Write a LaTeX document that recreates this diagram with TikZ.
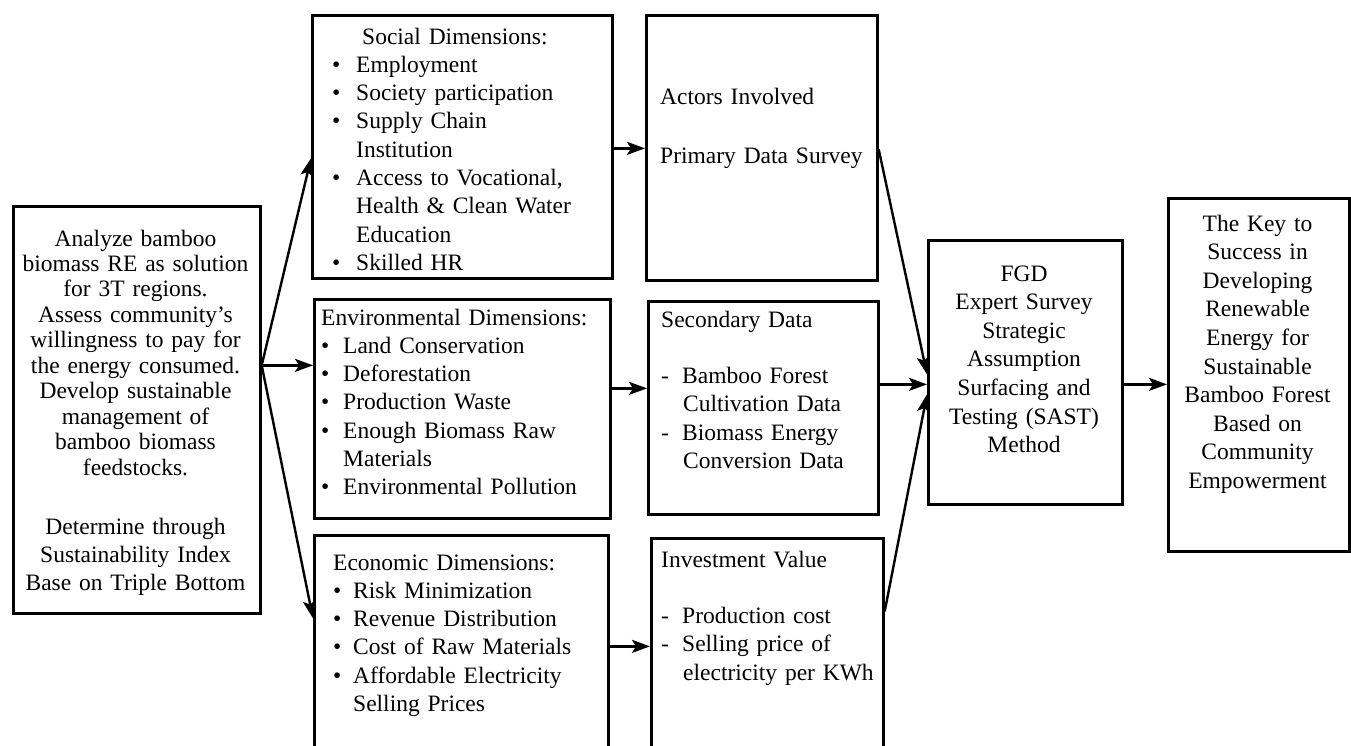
\documentclass[tikz,border=0pt]{standalone}
\usepackage{fontspec}
\setmainfont{Liberation Serif}
\usetikzlibrary{arrows.meta}
\newcommand{\bulx}[1]{\makebox[#1][l]{\textbullet}}
\newcommand{\dashx}{\makebox[21pt][l]{-}}
\begin{document}
\begin{tikzpicture}[x=1pt,y=-1pt,
  boxnode/.style={draw, line width=2.7pt, anchor=north west, inner sep=0pt},
  txt/.style={inner sep=0pt, anchor=base west, text width=290pt, align=left,
    font=\fontsize{23.5}{28.3}\selectfont},
  ctxt/.style={inner sep=0pt, anchor=base, text width=245pt, align=center,
    font=\fontsize{23.5}{28.6}\selectfont},
  arr/.style={line width=2.4pt, -{Stealth[length=18pt,width=13pt,inset=4pt]}}]
\useasboundingbox (0,0) rectangle (1351,745);
\clip (0,0) rectangle (1351,745);

% boxes
\node[boxnode, minimum width=247pt, minimum height=407pt] (left) at (12,205) {};
\node[boxnode, minimum width=300pt, minimum height=263pt] (social) at (311,14) {};
\node[boxnode, minimum width=296pt, minimum height=219pt] (env) at (313,298) {};
\node[boxnode, minimum width=294pt, minimum height=246pt] (econ) at (313,534) {};
\node[boxnode, minimum width=231pt, minimum height=265pt] (actors) at (645,14) {};
\node[boxnode, minimum width=230pt, minimum height=213pt] (second) at (647,300) {};
\node[boxnode, minimum width=232pt, minimum height=243pt] (invest) at (650,537) {};
\node[boxnode, minimum width=194pt, minimum height=264pt] (fgd) at (927,239) {};
\node[boxnode, minimum width=181pt, minimum height=353pt] (key) at (1167,197) {};

% texts
\node[ctxt, font=\fontsize{23.5}{25.45}\selectfont] (lefttxta) at (135.5,246)
  {Analyze bamboo\\biomass RE as solution\\for 3T regions.\\Assess community’s\\willingness to pay for\\the energy consumed.\\Develop sustainable\\management of\\bamboo biomass\\feedstocks.};
\node[ctxt, font=\fontsize{23.5}{28}\selectfont] (lefttxtb) at (135.5,534)
  {Determine through\\Sustainability Index\\Base on Triple Bottom};

\node[txt] (socialtxt) at (332,44)
  {\hspace*{30pt}Social Dimensions:\\
   \bulx{24pt}Employment\\
   \bulx{24pt}Society participation\\
   \bulx{24pt}Supply Chain\\
   \hspace*{24pt}Institution\\
   \bulx{24pt}Access to Vocational,\\
   \hspace*{24pt}Health \& Clean Water\\
   \hspace*{24pt}Education\\
   \bulx{24pt}Skilled HR};

\node[txt] (envtxt) at (321,325)
  {Environmental Dimensions:\\
   \bulx{22pt}Land Conservation\\
   \bulx{22pt}Deforestation\\
   \bulx{22pt}Production Waste\\
   \bulx{22pt}Enough Biomass Raw\\
   \hspace*{22pt}Materials\\
   \bulx{22pt}Environmental Pollution};

\node[txt] (econtxt) at (333,570)
  {Economic Dimensions:\\
   \bulx{20pt}Risk Minimization\\
   \bulx{20pt}Revenue Distribution\\
   \bulx{20pt}Cost of Raw Materials\\
   \bulx{20pt}Affordable Electricity\\
   \hspace*{20pt}Selling Prices};

\node[txt] (actorstxt) at (660,104)
  {Actors Involved\\[30.7pt]Primary Data Survey};

\node[txt] (secondtxt) at (661,327)
  {Secondary Data\\[28.3pt]
   \dashx Bamboo Forest\\
   \hspace*{22pt}Cultivation Data\\
   \dashx Biomass Energy\\
   \hspace*{22pt}Conversion Data};

\node[txt] (investtxt) at (661,567)
  {Investment Value\\[28.3pt]
   \dashx Production cost\\
   \dashx Selling price of\\
   \hspace*{22pt}electricity per KWh};

\node[ctxt] (fgdtxt) at (1024,281)
  {FGD\\Expert Survey\\Strategic\\Assumption\\Surfacing and\\Testing (SAST)\\Method};

\node[ctxt] (keytxt) at (1257.5,231)
  {The Key to\\Success in\\Developing\\Renewable\\Energy for\\Sustainable\\Bamboo Forest\\Based on\\Community\\Empowerment};

% connectors
\coordinate (fan) at ([yshift=44.5pt]left.east);
\draw[arr] (fan) -- ([yshift=-11.5pt]social.west);
\draw[arr] (fan) -- (fan -| env.west);
\draw[arr] (fan) -- ([yshift=40pt]econ.west);

\draw[arr] ([yshift=-1.5pt]social.east) -- ([yshift=-1.5pt]social.east -| actors.west);
\draw[arr] ([yshift=20.5pt]env.east) -- ([yshift=20.5pt]env.east -| second.west);
\draw[arr] ([yshift=12pt]econ.east) -- ([yshift=12pt]econ.east -| invest.west);

\draw[arr] ([yshift=-1.5pt]actors.east) -- ([yshift=-2pt]fgd.west);
\draw[arr] ([yshift=23.5pt]second.east) -- ([yshift=23.5pt]second.east -| fgd.west);
\draw[arr] ([yshift=48.5pt]invest.east) -- ([yshift=-22pt]fgd.west);

\draw[arr] ([yshift=-12pt]fgd.east) -- ([yshift=-12pt]fgd.east -| key.west);
\end{tikzpicture}
\end{document}
